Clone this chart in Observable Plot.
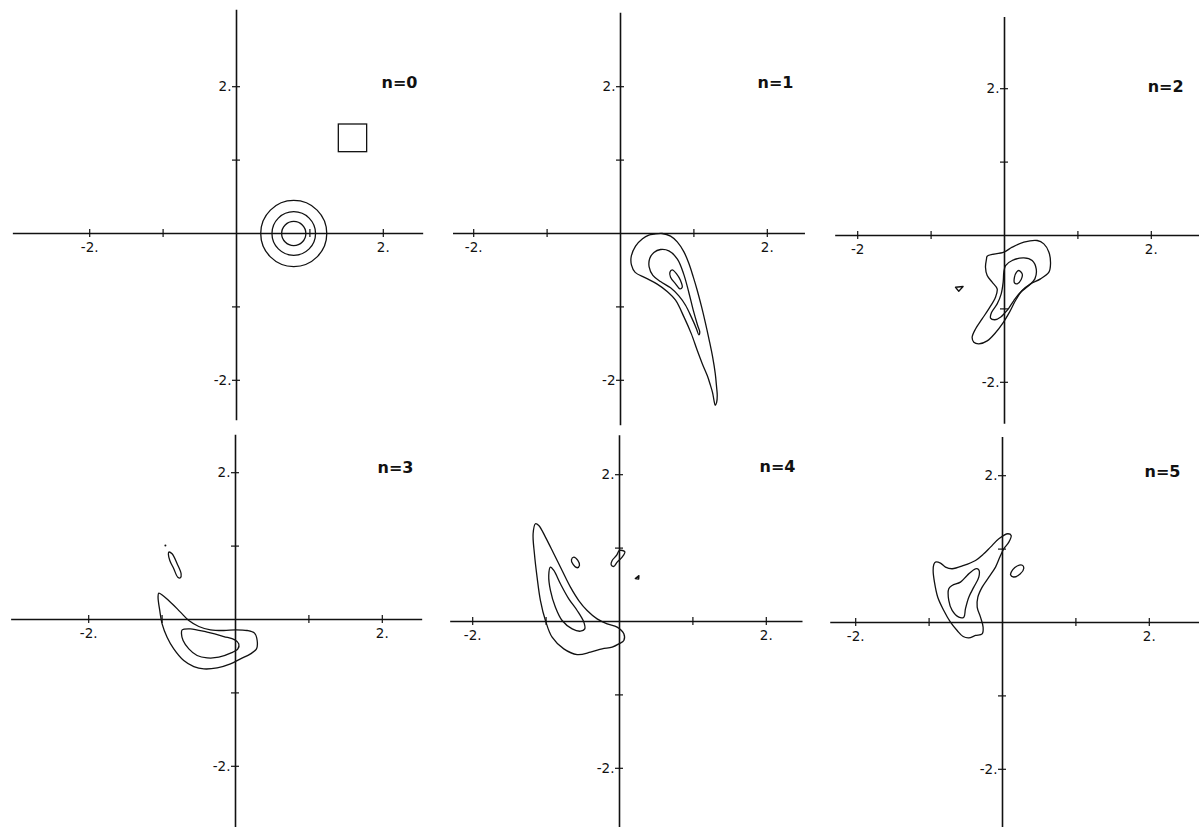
<!DOCTYPE html>
<html><head><meta charset="utf-8">
<script src="https://cdn.jsdelivr.net/npm/d3@7"></script>
<script src="https://cdn.jsdelivr.net/npm/@observablehq/plot@0.6"></script>
<style>
html,body{margin:0;padding:0;background:#fff;overflow:hidden;}
#wrap{position:relative;width:1199px;height:827px;overflow:hidden;background:#fff;}
</style></head><body><div id="wrap"></div>
<script>
// ---------- data ----------
const panelTitles = ["n=0", "n=1", "n=2", "n=3", "n=4", "n=5"];
const xTicks = [-2, -1, 1, 2];
const yTicks = [2, 1, -1, -2];
const xTickLabelValues = [-2, 2];
const yTickLabelValues = [2, -2];
const xTickLabels = [["-2.", "2."], ["-2.", "2."], ["-2", "2."], ["-2.", "2."], ["-2.", "2."], ["-2.", "2."]];
const yTickLabels = [["2.", "-2."], ["2.", "-2"], ["2.", "-2."], ["2.", "-2."], ["2.", "-2."], ["2.", "-2."]];

// n = 0 : initial distribution (circles) and target square
const n0CircleCenters = [[0.78, 0], [0.78, 0], [0.78, 0]];
const n0CircleRadii = [0.45, 0.297, 0.165];
const n0Square = {x1: 1.394, x2: 1.78, y1: 1.108, y2: 1.485};

// n = 1
const n1Outer = [[0.455,-0.009],[0.568,0],[0.682,-0.036],[0.773,-0.114],[0.864,-0.25],[0.932,-0.409],[0.991,-0.591],[1.045,-0.773],[1.105,-1.0],[1.159,-1.227],[1.209,-1.455],[1.255,-1.682],[1.291,-1.909],[1.309,-2.091],[1.318,-2.205],[1.31,-2.3],[1.29,-2.34],[1.275,-2.28],[1.255,-2.17],[1.22,-2.05],[1.182,-1.936],[1.114,-1.773],[1.045,-1.591],[0.964,-1.364],[0.864,-1.136],[0.75,-0.909],[0.636,-0.79],[0.5,-0.69],[0.34,-0.605],[0.2,-0.53],[0.15,-0.43],[0.145,-0.32],[0.205,-0.172],[0.3,-0.072],[0.386,-0.022]];
const n1Middle = [[0.545,-0.218],[0.659,-0.236],[0.775,-0.35],[0.86,-0.55],[0.93,-0.8],[0.99,-1.04],[1.05,-1.25],[1.08,-1.345],[1.066,-1.38],[1.036,-1.3],[0.964,-1.136],[0.886,-0.977],[0.795,-0.85],[0.682,-0.74],[0.545,-0.655],[0.441,-0.57],[0.39,-0.455],[0.398,-0.341],[0.455,-0.258]];
const n1Inner = [[0.705,-0.495],[0.764,-0.55],[0.818,-0.641],[0.841,-0.732],[0.809,-0.755],[0.75,-0.686],[0.682,-0.595],[0.673,-0.527]];

// n = 2
const n2Outer = [[-0.236,-0.282],[-0.009,-0.227],[0.105,-0.159],[0.264,-0.091],[0.445,-0.068],[0.536,-0.114],[0.605,-0.227],[0.627,-0.386],[0.605,-0.5],[0.491,-0.591],[0.355,-0.659],[0.241,-0.75],[0.15,-0.886],[0.07,-1.04],[-0.02,-1.19],[-0.123,-1.325],[-0.236,-1.435],[-0.35,-1.477],[-0.418,-1.455],[-0.441,-1.386],[-0.395,-1.273],[-0.305,-1.136],[-0.214,-1.0],[-0.123,-0.841],[-0.1,-0.727],[-0.168,-0.636],[-0.236,-0.545],[-0.259,-0.432],[-0.245,-0.318]];
const n2Middle = [[0.014,-0.409],[0.105,-0.341],[0.264,-0.305],[0.377,-0.341],[0.432,-0.455],[0.414,-0.591],[0.332,-0.682],[0.218,-0.773],[0.127,-0.886],[0.055,-0.995],[0.0,-1.06],[-0.05,-1.11],[-0.13,-1.148],[-0.19,-1.125],[-0.177,-1.05],[-0.1,-0.932],[-0.045,-0.795],[-0.018,-0.636],[-0.009,-0.5]];
const n2Inner = [[0.195,-0.477],[0.241,-0.523],[0.227,-0.6],[0.173,-0.659],[0.136,-0.645],[0.136,-0.568],[0.164,-0.5]];
const n2Triangle = [[-0.668,-0.705],[-0.564,-0.695],[-0.623,-0.759]];

// n = 3
const n3Outer = [[-1.045,0.359],[-0.886,0.236],[-0.75,0.1],[-0.636,-0.014],[-0.5,-0.095],[-0.341,-0.141],[-0.159,-0.15],[0.0,-0.141],[0.159,-0.15],[0.259,-0.186],[0.295,-0.286],[0.286,-0.4],[0.205,-0.468],[0.068,-0.536],[-0.068,-0.605],[-0.25,-0.659],[-0.432,-0.673],[-0.568,-0.641],[-0.705,-0.559],[-0.841,-0.4],[-0.932,-0.241],[-1.0,-0.059],[-1.032,0.123],[-1.055,0.305]];
const n3Inner = [[-0.727,-0.141],[-0.614,-0.127],[-0.386,-0.173],[-0.159,-0.232],[-0.009,-0.277],[0.045,-0.332],[0.032,-0.4],[-0.068,-0.459],[-0.227,-0.514],[-0.386,-0.523],[-0.523,-0.491],[-0.636,-0.4],[-0.714,-0.286],[-0.736,-0.195]];
const n3Blob = [[-0.909,0.918],[-0.864,0.895],[-0.795,0.759],[-0.741,0.623],[-0.75,0.568],[-0.786,0.577],[-0.841,0.691],[-0.895,0.805],[-0.914,0.886]];
const n3Speck = [[-0.955, 1.009]];

// n = 4
const n4Outer = [[-1.145,1.332],[-1.1,1.309],[-1.009,1.15],[-0.895,0.923],[-0.782,0.695],[-0.668,0.468],[-0.555,0.286],[-0.441,0.15],[-0.305,0.036],[-0.168,-0.032],[-0.032,-0.077],[0.059,-0.168],[0.059,-0.259],[-0.009,-0.305],[-0.1,-0.35],[-0.236,-0.373],[-0.395,-0.418],[-0.577,-0.45],[-0.759,-0.373],[-0.918,-0.214],[-1.009,0.014],[-1.077,0.286],[-1.123,0.605],[-1.159,0.923],[-1.177,1.195]];
const n4Inner = [[-0.941,0.741],[-0.895,0.695],[-0.805,0.514],[-0.691,0.309],[-0.577,0.15],[-0.486,-0.009],[-0.473,-0.1],[-0.532,-0.132],[-0.645,-0.1],[-0.782,0.014],[-0.873,0.195],[-0.941,0.423],[-0.964,0.627]];
const n4Blob1 = [[-0.623,0.877],[-0.568,0.832],[-0.545,0.764],[-0.577,0.732],[-0.632,0.777],[-0.655,0.841]];
const n4Blob2 = [[0,0.968],[0.073,0.95],[0.036,0.877],[-0.032,0.809],[-0.077,0.75],[-0.114,0.773],[-0.1,0.832],[-0.041,0.9]];
const n4Blob3 = [[0.215,0.585],[0.265,0.625],[0.262,0.578]];

// n = 5
const n5Outer = [[-0.914,0.823],[-0.845,0.809],[-0.777,0.755],[-0.686,0.732],[-0.527,0.777],[-0.368,0.845],[-0.255,0.936],[-0.164,1.027],[-0.05,1.141],[0.073,1.209],[0.118,1.186],[0.086,1.095],[0.018,1.005],[-0.036,0.891],[-0.095,0.755],[-0.186,0.618],[-0.277,0.482],[-0.336,0.345],[-0.345,0.209],[-0.3,0.073],[-0.264,-0.064],[-0.277,-0.155],[-0.368,-0.177],[-0.459,-0.209],[-0.536,-0.191],[-0.618,-0.109],[-0.709,0.005],[-0.8,0.164],[-0.882,0.345],[-0.927,0.55],[-0.945,0.709],[-0.936,0.791]];
const n5Inner = [[-0.368,0.732],[-0.482,0.641],[-0.573,0.55],[-0.686,0.505],[-0.732,0.459],[-0.732,0.3],[-0.686,0.164],[-0.595,0.073],[-0.527,0.073],[-0.505,0.186],[-0.459,0.345],[-0.391,0.482],[-0.323,0.618],[-0.323,0.718]];
const n5Blob = [[0.27,0.78],[0.29,0.74],[0.24,0.66],[0.15,0.62],[0.11,0.65],[0.14,0.72],[0.2,0.77]];

const panelRings = [
  [],
  [n1Outer, n1Middle, n1Inner],
  [n2Outer, n2Middle, n2Inner],
  [n3Outer, n3Inner, n3Blob],
  [n4Outer, n4Inner, n4Blob1, n4Blob2],
  [n5Outer, n5Inner, n5Blob]
];
const panelPolygons = [[], [], [n2Triangle], [], [n4Blob3], []];
const panelSpecks = [[], [], [], n3Speck, [], []];

// ---------- layout (positions / styles) ----------
const U = 73.4;            // pixels per data unit
const ORIGIN = 240;        // origin position inside each svg
const SIZE = 460;
const layout = [
  {ox: 236,  oy: 233, ax: [-3.04, 2.55], ay: [-2.55, 3.04], title: [2.466, 2.057]},
  {ox: 620,  oy: 233, ax: [-2.275, 2.52], ay: [-2.62, 3.0], title: [2.357, 2.057]},
  {ox: 1004, oy: 235, ax: [-2.3, 2.7],  ay: [-2.57, 2.97], title: [2.44, 2.03]},
  {ox: 235,  oy: 619, ax: [-3.05, 2.55], ay: [-2.9, 2.51], title: [2.425, 2.064]},
  {ox: 619,  oy: 621, ax: [-2.3, 2.5],  ay: [-2.9, 2.53], title: [2.398, 2.11]},
  {ox: 1002, oy: 622, ax: [-2.34, 2.7], ay: [-2.9, 2.52], title: [2.425, 2.057]}
];
const FONT = "'DejaVu Sans', 'Liberation Sans', sans-serif";
const INK = "#111";

const wrap = document.getElementById("wrap");

panelTitles.forEach((title, i) => {
  const L = layout[i];
  const ringRows = [];
  panelRings[i].forEach((ring, k) => ring.forEach(([x, y]) => ringRows.push({x, y, ring: k})));
  const polyRows = [];
  panelPolygons[i].forEach((ring, k) => ring.forEach(([x, y]) => polyRows.push({x, y, ring: k})));

  const marks = [
    Plot.ruleY([0], {x1: () => L.ax[0], x2: () => L.ax[1], stroke: INK, strokeWidth: 1.6}),
    Plot.ruleX([0], {y1: () => L.ay[0], y2: () => L.ay[1], stroke: INK, strokeWidth: 1.6}),
    Plot.ruleX(xTicks, {x: d => d, y1: () => 0, y2: () => 0, insetTop: -4, insetBottom: -4, stroke: INK, strokeWidth: 1.2}),
    Plot.ruleY(yTicks, {y: d => d, x1: () => 0, x2: () => 0, insetLeft: -4, insetRight: -4, stroke: INK, strokeWidth: 1.2}),
    Plot.text(xTickLabelValues, {x: d => d, y: () => 0, text: (d, j) => xTickLabels[i][j], dy: 14, fontSize: 13.5, fill: INK, fontFamily: FONT}),
    Plot.text(yTickLabelValues, {x: () => 0, y: d => d, text: (d, j) => yTickLabels[i][j], dx: -5, textAnchor: "end", fontSize: 13.5, fill: INK, fontFamily: FONT}),
    Plot.text([title], {x: () => L.title[0], y: () => L.title[1], text: d => d, textAnchor: "end", fontSize: 16, fontWeight: "bold", fill: INK, fontFamily: FONT}),
    Plot.line(ringRows, {x: "x", y: "y", z: "ring", curve: "catmull-rom-closed", stroke: INK, strokeWidth: 1.3}),
    Plot.line(polyRows, {x: "x", y: "y", z: "ring", curve: "linear-closed", stroke: INK, strokeWidth: 1.3}),
    Plot.dot(panelSpecks[i], {x: d => d[0], y: d => d[1], r: 1, fill: INK, stroke: null})
  ];
  if (i === 0) {
    marks.push(
      Plot.dot(n0CircleRadii, {x: (d, j) => n0CircleCenters[j][0], y: (d, j) => n0CircleCenters[j][1], r: d => d, stroke: INK, strokeWidth: 1.3, fill: "none"}),
      Plot.rect([n0Square], {x1: "x1", x2: "x2", y1: "y1", y2: "y2", stroke: INK, strokeWidth: 1.3, fill: "none"})
    );
  }

  const chart = Plot.plot({
    width: SIZE, height: SIZE,
    margin: 0,
    x: {domain: [-ORIGIN / U, (SIZE - ORIGIN) / U], axis: null},
    y: {domain: [-(SIZE - ORIGIN) / U, ORIGIN / U], axis: null},
    r: {type: "linear", domain: [0, 1], range: [0, U]},
    style: {background: "transparent", overflow: "visible", fontFamily: FONT},
    marks
  });
  chart.style.position = "absolute";
  chart.style.left = (L.ox - ORIGIN) + "px";
  chart.style.top = (L.oy - ORIGIN) + "px";
  chart.style.maxWidth = "none";
  wrap.appendChild(chart);
});
</script>
</body></html>
